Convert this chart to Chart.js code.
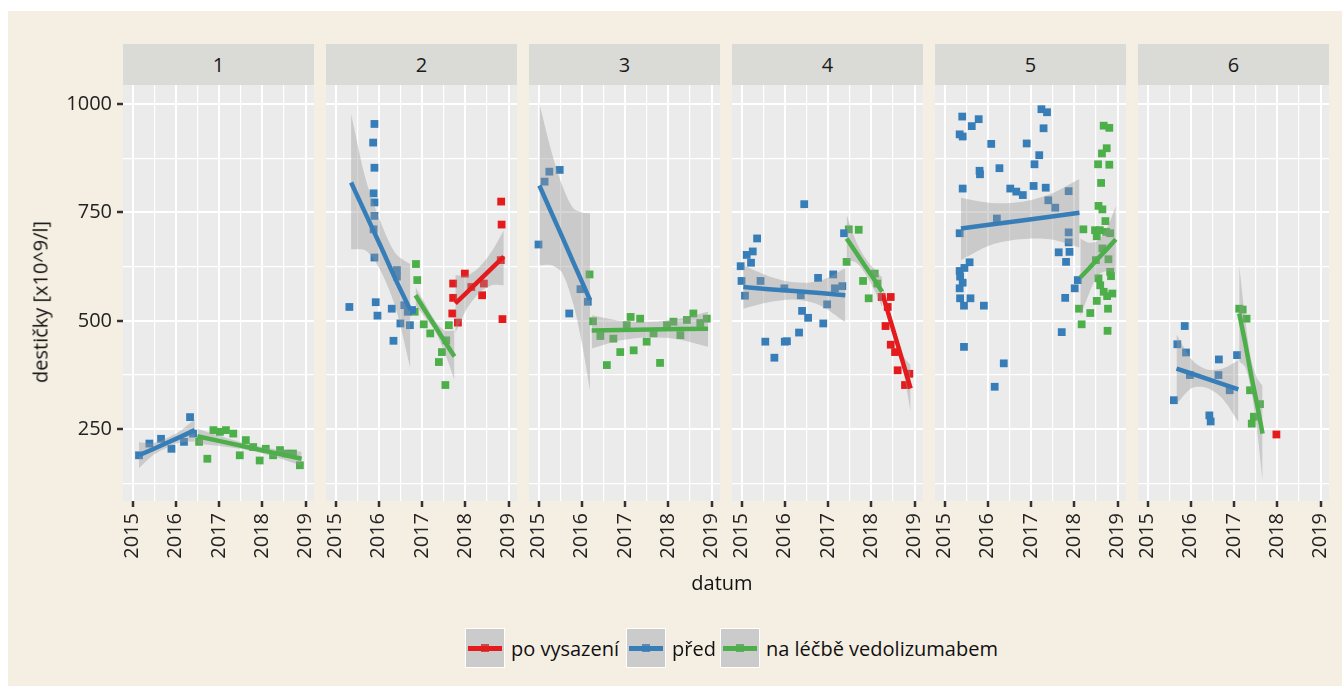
<!DOCTYPE html>
<html>
<head>
<meta charset="utf-8">
<script src="https://cdn.jsdelivr.net/npm/chart.js@4"></script>
<style>
  body { margin: 0; background: #fff; font-family: "Open Sans", sans-serif; }
  #fig { position: absolute; left: 8px; top: 11px; width: 1334px; height: 675px; background: #f5eee3; }
  .strip { position: absolute; top: 44px; height: 41px; width: 191px; background: #dadad6; color: #1a1a1a;
           font-size: 20px; line-height: 41px; text-align: center; }
  .panel { position: absolute; top: 85px; }
  .txt { position: absolute; font-size: 20px; color: #111; white-space: nowrap; }
  .key { position: absolute; top: 628px; width: 38px; height: 38px; background: #cbcbcb; border: 1px solid #fff; }
  .key .pt { position: absolute; left: 15px; top: 15px; width: 8px; height: 8px; }
  .key .ln { position: absolute; left: 2px; right: 2px; top: 16.5px; height: 5px; }
</style>
</head>
<body>
<div id="fig"></div>
<div id="holder"></div>
<div class="txt" style="left:40px;top:302px;transform:translate(-50%,-50%) rotate(-90deg);">destičky [x10^9/l]</div>
<div class="txt" style="left:722px;top:582px;transform:translate(-50%,-50%);">datum</div>

<div class="key" style="left:465px"><div class="pt" style="background:#c64d4e"></div><div class="ln" style="background:#e41a1c"></div></div>
<div class="txt" style="left:511px;top:648px;transform:translateY(-50%);">po vysazení</div>
<div class="key" style="left:626px"><div class="pt" style="background:#5e89ac"></div><div class="ln" style="background:#377eb8"></div></div>
<div class="txt" style="left:672px;top:648px;transform:translateY(-50%);">před</div>
<div class="key" style="left:720px"><div class="pt" style="background:#6ba66a"></div><div class="ln" style="background:#4daf4a"></div></div>
<div class="txt" style="left:766px;top:648px;transform:translateY(-50%);">na léčbě vedolizumabem</div>

<script>
// ticks
const xTicks = [2015, 2015.5, 2016, 2016.5, 2017, 2017.5, 2018, 2018.5, 2019];
const yTicks = [125, 250, 375, 500, 625, 750, 875, 1000];

// points [datum, destičky]
const p1Pred = [[2015.15,190],[2015.39,217],[2015.66,228],[2015.90,205],[2016.19,221],[2016.33,278],[2016.40,240]];
const p1Lecba = [[2016.54,221],[2016.73,182],[2016.87,248],[2017.02,244],[2017.16,248],[2017.33,240],[2017.48,190],[2017.62,225],[2017.79,209],[2017.94,178],[2018.08,205],[2018.25,190],[2018.41,202],[2018.56,194],[2018.71,194],[2018.87,167]];

const p2Pred = [[2015.32,532],[2015.90,954],[2015.87,911],[2015.90,853],[2015.88,794],[2015.90,773],[2015.90,742],[2015.88,711],[2015.90,646],[2015.93,543],[2015.97,512],[2016.34,454],[2016.30,528],[2016.42,617],[2016.42,602],[2016.50,494],[2016.59,536],[2016.67,521],[2016.72,490],[2016.77,525]];
const p2Lecba = [[2016.86,631],[2016.89,594],[2016.83,521],[2017.04,492],[2017.19,471],[2017.39,405],[2017.54,352],[2017.46,428],[2017.62,490],[2017.56,455]];
const p2Po = [[2017.72,586],[2017.72,553],[2017.70,517],[2017.83,496],[2017.99,609],[2018.14,578],[2018.43,586],[2018.39,559],[2018.83,775],[2018.84,722],[2018.82,640],[2018.86,504]];

const p3Pred = [[2015.00,676],[2015.14,821],[2015.25,844],[2015.49,848],[2015.71,517],[2015.97,573],[2016.14,544]];
const p3Lecba = [[2016.18,607],[2016.26,499],[2016.43,465],[2016.58,398],[2016.73,459],[2016.89,428],[2017.04,490],[2017.13,509],[2017.20,432],[2017.35,505],[2017.50,452],[2017.66,471],[2017.81,403],[2017.97,490],[2018.12,498],[2018.28,467],[2018.43,502],[2018.58,517],[2018.74,495],[2018.89,505]];

const p4Pred = [[2014.98,626],[2015.00,592],[2015.08,558],[2015.12,652],[2015.22,634],[2015.26,660],[2015.36,690],[2015.44,592],[2015.55,452],[2015.76,415],[2015.99,575],[2016.00,452],[2016.05,453],[2016.33,473],[2016.40,523],[2016.45,769],[2016.54,507],[2016.37,559],[2016.77,599],[2016.89,494],[2016.98,538],[2017.12,607],[2017.16,575],[2017.33,580],[2017.37,702]];
const p4Lecba = [[2017.48,711],[2017.71,710],[2017.43,636],[2017.81,592],[2017.94,552],[2018.08,609],[2018.14,586]];
const p4Po = [[2018.24,555],[2018.45,555],[2018.33,488],[2018.45,445],[2018.55,428],[2018.61,386],[2018.78,352],[2018.88,378],[2018.38,532]];

const p5Pred = [[2015.41,971],[2015.79,965],[2015.63,949],[2015.35,930],[2015.42,925],[2016.08,908],[2016.90,909],[2017.24,988],[2017.37,981],[2017.29,944],[2017.19,882],[2017.08,861],[2015.81,846],[2015.82,838],[2016.27,852],[2015.42,805],[2016.52,805],[2016.66,798],[2016.81,790],[2017.06,811],[2017.34,807],[2017.40,778],[2017.56,761],[2017.87,799],[2016.21,736],[2015.35,702],[2017.87,704],[2017.87,681],[2017.64,658],[2017.89,659],[2017.81,636],[2015.58,635],[2015.46,622],[2015.35,615],[2015.36,602],[2015.42,588],[2015.35,575],[2015.36,552],[2015.60,552],[2015.45,535],[2015.91,535],[2017.79,553],[2018.01,575],[2018.08,594],[2017.71,474],[2015.45,440],[2016.37,402],[2016.16,348]];
const p5Lecba = [[2018.68,950],[2018.81,945],[2018.75,898],[2018.64,886],[2018.55,861],[2018.81,860],[2018.62,818],[2018.56,765],[2018.65,757],[2018.72,730],[2018.48,709],[2018.59,709],[2018.21,711],[2018.74,705],[2018.52,695],[2018.83,702],[2018.65,667],[2018.79,642],[2018.50,640],[2018.83,613],[2018.85,603],[2018.56,598],[2018.60,582],[2018.68,567],[2018.88,563],[2018.76,557],[2018.52,546],[2018.11,528],[2018.37,518],[2018.78,528],[2018.17,492],[2018.77,477]];

const p6Pred = [[2015.86,488],[2015.69,446],[2015.89,427],[2015.61,317],[2015.98,375],[2016.65,411],[2016.64,375],[2017.07,421],[2016.43,282],[2016.46,268],[2016.90,340]];
const p6Lecba = [[2017.12,528],[2017.20,526],[2017.29,505],[2017.37,340],[2017.60,308],[2017.46,279],[2017.41,263]];
const p6Po = [[2017.98,238]];

// lineární fit s intervalem: [datum, fit, dolní, horní]
const p1PredFit = [[2015.15,190,160,220],[2015.47,204,190,218],[2015.80,219,208,230],[2016.12,233,220,247],[2016.44,248,222,274]];
const p1LecbaFit = [[2016.50,234,217,251],[2017.10,221,210,232],[2017.70,208,201,215],[2018.30,195,186,204],[2018.91,182,166,198]];
const p2PredFit = [[2015.36,819,665,977],[2015.70,746,662,826],[2016.05,671,614,726],[2016.39,595,530,655],[2016.73,525,390,630]];
const p2LecbaFit = [[2016.85,559,536,578],[2017.07,524,508,540],[2017.30,488,476,500],[2017.52,453,428,478],[2017.75,418,363,478]];
const p2PoFit = [[2017.77,540,471,605],[2018.05,567,530,605],[2018.33,594,565,625],[2018.61,621,582,660],[2018.89,648,582,709]];
const p3PredFit = [[2015.02,812,628,1001],[2015.30,749,628,890],[2015.55,693,610,812],[2015.80,636,540,760],[2016.00,591,450,750],[2016.19,548,340,748]];
const p3LecbaFit = [[2016.23,478,436,513],[2016.90,479,455,500],[2017.58,480,462,498],[2018.25,481,457,505],[2018.92,482,440,521]];
const p4PredFit = [[2015.04,578,528,628],[2015.63,573,543,603],[2016.22,569,549,589],[2016.81,564,536,592],[2017.40,559,497,621]];
const p4LecbaFit = [[2017.43,690,640,745],[2017.64,659,635,685],[2017.84,629,612,648],[2018.05,598,575,622],[2018.25,567,532,600]];
const p4PoFit = [[2018.27,559,542,576],[2018.43,505,492,520],[2018.59,452,437,468],[2018.75,398,378,418],[2018.91,344,290,398]];
const p5PredFit = [[2015.38,713,640,784],[2016.07,722,675,772],[2016.75,731,688,774],[2017.44,740,688,792],[2018.12,749,669,827]];
const p5LecbaFit = [[2018.14,600,510,690],[2018.35,622,565,680],[2018.55,644,605,685],[2018.76,666,615,715],[2018.96,688,610,765]];
const p6PredFit = [[2015.67,390,308,469],[2016.03,378,345,410],[2016.38,366,345,388],[2016.74,354,320,390],[2017.10,342,267,409]];
const p6LecbaFit = [[2017.12,517,406,628],[2017.26,448,393,503],[2017.39,378,343,413],[2017.53,309,250,368],[2017.66,240,130,350]];

const groups = [
  { key: "po", label: "po vysazení", color: "#e41a1c" },
  { key: "pred", label: "před", color: "#377eb8" },
  { key: "lecba", label: "na léčbě vedolizumabem", color: "#4daf4a" },
];

const panels = [
  { label: "1", left: 123, pred: p1Pred, lecba: p1Lecba, predFit: p1PredFit, lecbaFit: p1LecbaFit },
  { label: "2", left: 326, po: p2Po, pred: p2Pred, lecba: p2Lecba, poFit: p2PoFit, predFit: p2PredFit, lecbaFit: p2LecbaFit },
  { label: "3", left: 529, pred: p3Pred, lecba: p3Lecba, predFit: p3PredFit, lecbaFit: p3LecbaFit },
  { label: "4", left: 732, po: p4Po, pred: p4Pred, lecba: p4Lecba, poFit: p4PoFit, predFit: p4PredFit, lecbaFit: p4LecbaFit },
  { label: "5", left: 935, pred: p5Pred, lecba: p5Lecba, predFit: p5PredFit, lecbaFit: p5LecbaFit },
  { label: "6", left: 1138, po: p6Po, pred: p6Pred, lecba: p6Lecba, predFit: p6PredFit, lecbaFit: p6LecbaFit },
];

Chart.defaults.font.family = "'Open Sans', sans-serif";
Chart.defaults.font.size = 20;
Chart.defaults.color = "#222";
Chart.defaults.animation = false;

const PW = 191;      // šířka panelu
const PH = 416;      // výška panelu
const XAXIS_H = 80;
const YAXIS_W = 115;

// šedé pozadí panelu
const panelBg = {
  id: "panelBg",
  beforeDraw: (chart) => {
    const { ctx, chartArea: a } = chart;
    ctx.save();
    ctx.fillStyle = "#ebebeb";
    ctx.fillRect(a.left, a.top, a.right - a.left, a.bottom - a.top);
    ctx.restore();
  },
};

// bez automatického odsazení od popisků
const noPad = (axis) => {
  axis.paddingTop = 0;
  axis.paddingBottom = 0;
  axis.paddingLeft = 0;
  axis.paddingRight = 0;
};

const buildDatasets = (p) => {
  const ds = [];
  groups.forEach((g) => {
    if (!p[g.key]) return;
    ds.push({
      data: p[g.key].map(([x, y]) => ({ x, y })),
      showLine: false,
      pointStyle: "rect",
      pointRadius: 5.5,
      pointBackgroundColor: g.color,
      pointBorderWidth: 0,
      order: 10,
    });
  });
  groups.forEach((g, i) => {
    const f = p[g.key + "Fit"];
    if (!f) return;
    const loIdx = ds.length;
    ds.push({
      data: f.map((r) => ({ x: r[0], y: r[2] })),
      borderWidth: 0, pointRadius: 0, fill: false, tension: 0.3, order: 9 - i * 2,
    });
    ds.push({
      data: f.map((r) => ({ x: r[0], y: r[3] })),
      borderWidth: 0, pointRadius: 0, tension: 0.3,
      fill: loIdx, backgroundColor: "rgba(153,153,153,0.4)", order: 9 - i * 2,
    });
    ds.push({
      data: f.map((r) => ({ x: r[0], y: r[1] })),
      borderColor: g.color, borderWidth: 4.5, pointRadius: 0, fill: false, order: 8 - i * 2,
    });
  });
  return ds;
};

const isMajorX = (c) => c.tick && Number.isInteger(c.tick.value);
const isMajorY = (c) => c.tick && c.tick.value % 250 === 0;

const holder = document.getElementById("holder");

panels.forEach((p, idx) => {
  const strip = document.createElement("div");
  strip.className = "strip";
  strip.style.left = p.left + "px";
  strip.textContent = p.label;
  holder.appendChild(strip);

  const first = idx === 0;
  const w = first ? PW + YAXIS_W : PW;
  const canvas = document.createElement("canvas");
  canvas.className = "panel";
  canvas.width = w;
  canvas.height = PH + XAXIS_H;
  canvas.style.left = (first ? p.left - YAXIS_W : p.left) + "px";
  holder.appendChild(canvas);

  new Chart(canvas, {
    type: "line",
    data: { datasets: buildDatasets(p) },
    options: {
      responsive: false,
      layout: { padding: 0, autoPadding: false },
      plugins: { legend: { display: false }, tooltip: { enabled: false } },
      scales: {
        x: {
          type: "linear",
          min: 2014.78,
          max: 2019.196,
          afterBuildTicks: (axis) => { axis.ticks = xTicks.map((v) => ({ value: v })); },
          afterFit: (axis) => { axis.height = XAXIS_H; noPad(axis); },
          border: { display: false },
          grid: {
            color: "#fff",
            lineWidth: (c) => (isMajorX(c) ? 2 : 1.2),
            tickColor: (c) => (isMajorX(c) ? "#333" : "rgba(0,0,0,0)"),
            tickWidth: 2.5,
            tickLength: 6,
          },
          ticks: {
            autoSkip: false,
            minRotation: 90,
            maxRotation: 90,
            padding: 6,
            callback: (v) => (Number.isInteger(v) ? String(v) : ""),
          },
        },
        y: {
          type: "linear",
          min: 84.6,
          max: 1043.8,
          afterBuildTicks: (axis) => { axis.ticks = yTicks.map((v) => ({ value: v })); },
          afterFit: (axis) => { axis.width = first ? YAXIS_W : 0; noPad(axis); },
          border: { display: false },
          grid: {
            color: "#fff",
            lineWidth: (c) => (isMajorY(c) ? 2 : 1.2),
            drawTicks: first,
            tickColor: (c) => (isMajorY(c) ? "#333" : "rgba(0,0,0,0)"),
            tickWidth: 2.5,
            tickLength: 6,
          },
          ticks: {
            display: first,
            padding: 5,
            callback: (v) => (v % 250 === 0 ? String(v) : ""),
          },
        },
      },
    },
    plugins: [panelBg],
  });
});
</script>
</body>
</html>
